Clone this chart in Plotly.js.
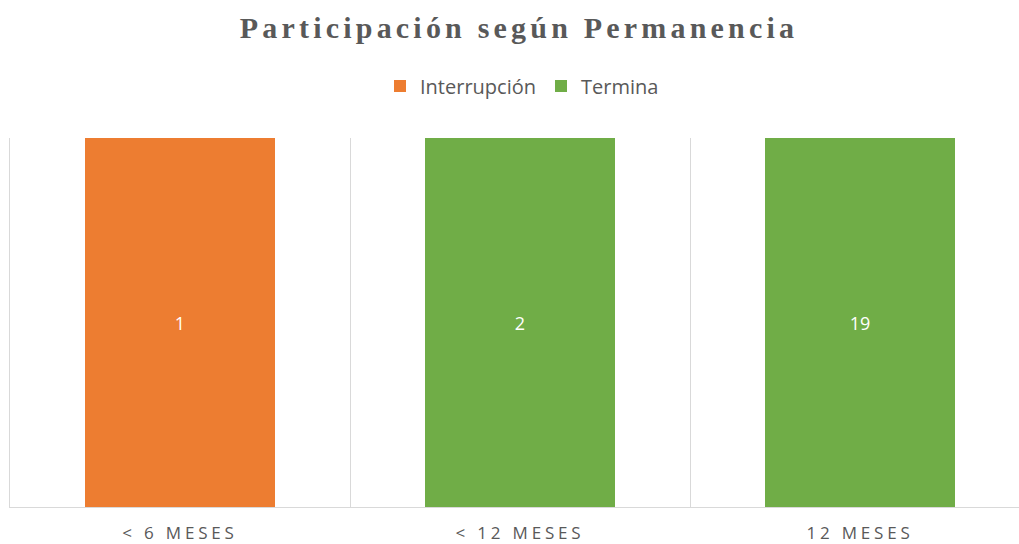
<!DOCTYPE html>
<html>
<head>
<meta charset="utf-8">
<script src="https://cdn.plot.ly/plotly-3.0.1.min.js"></script>
<style>
html,body{margin:0;padding:0;overflow:hidden;background:#fff;}
#chart{width:1030px;height:544px;}
.xtick text{letter-spacing:3.8px;}
.gtitle{letter-spacing:4.2px;}
</style>
</head>
<body>
<div id="chart"></div>
<script>
const categories = ['< 6 MESES', '< 12 MESES', '12 MESES'];
const interrupcion = [1, null, null];
const termina = [null, 2, 19];
const seriesNames = ['Interrupción', 'Termina'];
const colors = ['#ED7D31', '#70AD47'];

function labels(v){ return v.map(x => (x === null ? '' : String(x))); }

const traces = [interrupcion, termina].map((vals, i) => ({
  type: 'bar',
  name: seriesNames[i],
  x: categories,
  y: vals,
  text: labels(vals),
  textposition: 'inside',
  insidetextanchor: 'middle',
  textangle: 0,
  textfont: {color: '#FFFFFF', size: 18, family: 'Open Sans, sans-serif'},
  marker: {color: colors[i]},
  hoverinfo: 'x+y'
}));

const layout = {
  width: 1030,
  height: 544,
  barmode: 'stack',
  barnorm: 'percent',
  bargap: 0.444,
  paper_bgcolor: '#FFFFFF',
  plot_bgcolor: '#FFFFFF',
  margin: {l: 10, r: 0, t: 138, b: 37},
  title: {
    text: '<b>Participación según Permanencia</b>',
    font: {family: 'Liberation Serif, serif', size: 30, color: '#595959'},
    x: 519/1030, xanchor: 'center', xref: 'container',
    y: 1 - 27/544, yanchor: 'middle', yref: 'container'
  },
  legend: {
    orientation: 'h',
    x: 522/1030, xanchor: 'center', xref: 'container',
    y: 1 - 86/544, yanchor: 'middle', yref: 'container',
    font: {family: 'Open Sans, sans-serif', size: 20, color: '#595959'},
    itemwidth: 20,
    traceorder: 'normal'
  },
  xaxis: {
    type: 'category',
    tickson: 'boundaries',
    showgrid: true,
    gridcolor: '#D9D9D9',
    gridwidth: 1,
    showline: true,
    linecolor: '#D9D9D9',
    linewidth: 1,
    ticks: '',
    ticklabelstandoff: 11,
    tickfont: {family: 'Open Sans, sans-serif', size: 17, color: '#595959'},
    zeroline: false
  },
  yaxis: {
    range: [0, 100],
    showline: true,
    linecolor: '#D9D9D9',
    linewidth: 1,
    showticklabels: false,
    ticks: '',
    showgrid: false,
    zeroline: false
  },
  showlegend: true
};

Plotly.newPlot('chart', traces, layout, {displayModeBar: false, staticPlot: true});
</script>
</body>
</html>
